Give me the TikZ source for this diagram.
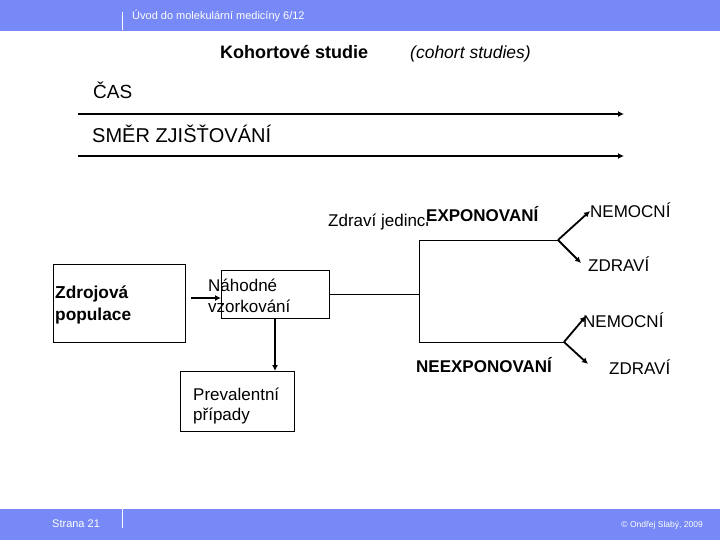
\documentclass[tikz,border=0pt]{standalone}
\usepackage{fontspec}
\setmainfont{Liberation Sans}
\usetikzlibrary{arrows.meta, positioning, calc}
\definecolor{bandcolor}{RGB}{119,137,246}

\begin{document}
\begin{tikzpicture}[x=1pt, y=-1pt,
    box/.style={draw, line width=0.9pt, inner sep=0pt, anchor=north west},
    txt/.style={anchor=base west, inner sep=0pt, font=\fontsize{17}{17}\selectfont},
    bigtxt/.style={anchor=base west, inner sep=0pt, font=\fontsize{19}{19}\selectfont},
    boldtxt/.style={anchor=base west, inner sep=0pt, font=\fontsize{17}{17}\selectfont\bfseries},
    bandtxt/.style={inner sep=0pt, text=white, font=\fontsize{11}{11}\selectfont},
    thinline/.style={line width=0.9pt},
    arr/.style={line width=1.8pt, -{Latex[length=6pt,width=6pt]}},
    longarr/.style={line width=2pt, -{Latex[length=6pt,width=6pt]}}]
    \useasboundingbox (0,0) rectangle (720,540);

    % Header and footer bands
    \fill[bandcolor] (0,0) rectangle (720,31);
    \draw[white, line width=0.8pt] (122,12) -- (122,30);
    \node[bandtxt, anchor=base west] (hdr) at (132,20) {Úvod do molekulární medicíny 6/12};
    \fill[bandcolor] (0,509) rectangle (720,540);
    \draw[white, line width=0.8pt] (122,509) -- (122,528);
    \node[bandtxt, anchor=base west] (page) at (52,527) {Strana 21};
    \node[bandtxt, anchor=base east, font=\fontsize{8.5}{9}\selectfont] (copy) at (703,527) {© Ondřej Slabý, 2009};

    % Title
    \node[anchor=base west, inner sep=0pt, font=\fontsize{18}{18}\selectfont\bfseries] (title) at (220,59) {Kohortové studie};
    \node[anchor=base west, inner sep=0pt, font=\fontsize{17.5}{18}\selectfont\itshape] (subtitle) at (410,59) {(cohort studies)};

    % Time axes
    \node[bigtxt] (cas) at (93,99) {ČAS};
    \coordinate (t0) at (78,114);
    \coordinate (t1) at (624,114);
    \draw[longarr] (t0) -- (t1);
    \node[bigtxt, font=\fontsize{20}{20}\selectfont] (smer) at (92,143) {SMĚR ZJIŠŤOVÁNÍ};
    \coordinate (s0) at (78,156);
    \coordinate (s1) at (624,156);
    \draw[longarr] (s0) -- (s1);

    % Source population and sampling
    \node[box, minimum width=132pt, minimum height=78pt] (src) at (53,264) {};
    \node[anchor=base west, inner sep=0pt, font=\fontsize{17.3}{18}\selectfont\bfseries] (srctxt) at (55,298) {Zdrojová};
    \node[anchor=base west, inner sep=0pt, font=\fontsize{17.3}{18}\selectfont\bfseries] (srctxt2) at (55,320) {populace};

    \node[box, minimum width=108pt, minimum height=48pt] (samp) at (221,270) {};
    \node[txt] (samptxt) at (208,291) {Náhodné};
    \node[txt] (samptxt2) at (208,312) {vzorkování};
    \draw[arr, line width=1.5pt] (191,298) -- (samp.west |- 0,298);

    \node[box, minimum width=114pt, minimum height=60pt] (prev) at (180,371) {};
    \node[txt] (prevtxt) at (193,400) {Prevalentní};
    \node[txt] (prevtxt2) at (193,420) {případy};
    \draw[arr] (samp.south -| 275,0) -- (prev.north -| 275,0);

    % Cohort split
    \coordinate (split) at (419,294);
    \coordinate (expA) at (419,240);
    \coordinate (expB) at (558,240);
    \coordinate (neA) at (419,342);
    \coordinate (neB) at (564,342);
    \draw[thinline] (samp.east |- split) -- (split);
    \draw[thinline] (expB) -- (expA) -- (neA) -- (neB);

    \node[txt] (zdr) at (328,226) {Zdraví jedinci};
    \node[fill=white, inner sep=0pt, anchor=base west, font=\fontsize{17}{17}\selectfont\bfseries] (expo) at (426,222) {EXPONOVANÍ};
    \node[boldtxt] (neexpo) at (416,372) {NEEXPONOVANÍ};

    % Outcomes
    \node[txt] (nem1) at (590,218) {NEMOCNÍ};
    \node[txt] (zdr1) at (588,271) {ZDRAVÍ};
    \node[txt] (nem2) at (583,327) {NEMOCNÍ};
    \node[txt] (zdr2) at (609,374) {ZDRAVÍ};
    \draw[arr] (expB) -- (nem1.base west |- 0,211);
    \draw[arr] (expB) -- (581,263);
    \draw[arr] (neB) -- (586,316);
    \draw[arr] (neB) -- (588,364);
\end{tikzpicture}
\end{document}
